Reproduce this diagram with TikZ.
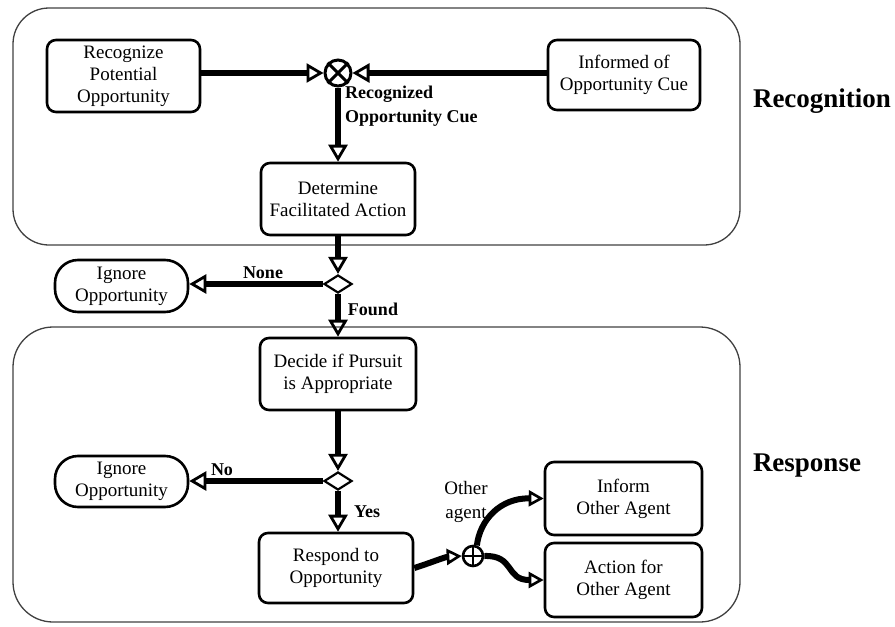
\documentclass[tikz,border=0pt]{standalone}
\usepackage{fontspec}
\setmainfont{Liberation Serif}
\usetikzlibrary{arrows.meta,shapes.geometric}
\begin{document}
\begin{tikzpicture}[x=1pt,y=-1pt,
  box/.style={draw,line width=2.6pt,rounded corners=9pt,align=center,inner sep=0pt,
    font=\fontsize{19}{22}\selectfont},
  pill/.style={draw,line width=2.6pt,rounded corners=23pt,align=center,inner sep=0pt,
    minimum width=133pt,minimum height=52pt,font=\fontsize{19}{22}\selectfont},
  cont/.style={draw=black!75,line width=1.3pt},
  arr/.style={line width=5.5pt,-{Triangle[open,length=17pt,width=19pt,line width=2.8pt]}},
  warr/.style={line width=6pt,-{Triangle[open,length=15pt,width=16pt,line width=2.6pt]}},
  dia/.style={draw,diamond,line width=2.2pt,inner sep=0pt,minimum width=28pt,minimum height=18pt,fill=white},
  lab/.style={font=\bfseries\fontsize{18}{24}\selectfont,inner sep=0pt},
  big/.style={font=\bfseries\fontsize{27}{30}\selectfont,inner sep=0pt}
]
\useasboundingbox (0,0) rectangle (895,627);
% containers
\draw[cont,rounded corners=36pt] (13,8) rectangle (740,245);
\draw[cont,rounded corners=40pt] (13,327) rectangle (740,622);

% nodes
\node[box,minimum width=153pt,minimum height=72pt] (rec) at (123.5,76) {Recognize\\Potential\\Opportunity};
\node[box,minimum width=152pt,minimum height=70pt] (inf) at (624,75) {Informed of\\Opportunity Cue};
\node[draw,circle,line width=3pt,minimum size=26pt,inner sep=0pt] (xc) at (338,73) {};
\draw[line width=3pt] (xc.45) -- (xc.225) (xc.135) -- (xc.315);
\node[box,minimum width=154pt,minimum height=72pt] (det) at (338,199) {Determine\\Facilitated Action};
\node[dia] (d1) at (338,284) {};
\node[pill] (ign1) at (121.5,286) {Ignore\\Opportunity};
\node[box,minimum width=156pt,minimum height=72pt] (dec) at (338,374) {Decide if Pursuit\\is Appropriate};
\node[dia] (d2) at (338,481) {};
\node[pill,minimum height=51pt] (ign2) at (121.5,481.5) {Ignore\\Opportunity};
\node[box,minimum width=154pt,minimum height=70pt] (resp) at (336,568) {Respond to\\Opportunity};
\node[draw,circle,line width=2.6pt,minimum size=20pt,inner sep=0pt] (pc) at (473,556) {};
\draw[line width=2.6pt] (pc.north) -- (pc.south) (pc.east) -- (pc.west);
\node[box,minimum width=157pt,minimum height=73pt] (infa) at (623.5,498.5) {Inform\\Other Agent};
\node[box,minimum width=157pt,minimum height=74pt] (act) at (623.5,580) {Action for\\Other Agent};

% labels
\node[lab,anchor=north west,align=left] (rlab) at (345,86) {Recognized\\Opportunity Cue};
\node[lab] (none) at (263,273) {None};
\node[lab] (found) at (373,309) {Found};
\node[lab] (no) at (222,470) {No};
\node[lab] (yes) at (367,512) {Yes};
\node[font=\fontsize{19}{24}\selectfont,align=center,inner sep=0pt] (oa) at (466,502) {Other\\agent};
\node[big] (recog) at (822,101) {Recognition};
\node[big] (respl) at (807,466) {Response};

% connectors
\draw[arr] (rec.east |- xc.west) -- (xc.west);
\draw[arr] (inf.west |- xc.east) -- (xc.east);
\draw[arr] (xc.south) -- (det.north);
\draw[arr] (det.south) -- (d1.north);
\draw[arr] (d1.west) -- (d1.west -| ign1.east);
\draw[arr] (d1.south) -- (d1.south |- dec.north);
\draw[arr] (d1.south |- dec.south) -- (d2.north);
\draw[arr] (d2.west) -- (d2.west -| ign2.east);
\draw[arr] (d2.south) -- (d2.south |- resp.north);
\draw[warr] (resp.east) .. controls (430,563) and (445,557) .. (pc.west);
\draw[warr] (pc.70) .. controls (480,520) and (500,498) .. (infa.west);
\draw[warr] (pc.east) .. controls (515,555) and (505,580) .. (act.west);
\end{tikzpicture}
\end{document}
